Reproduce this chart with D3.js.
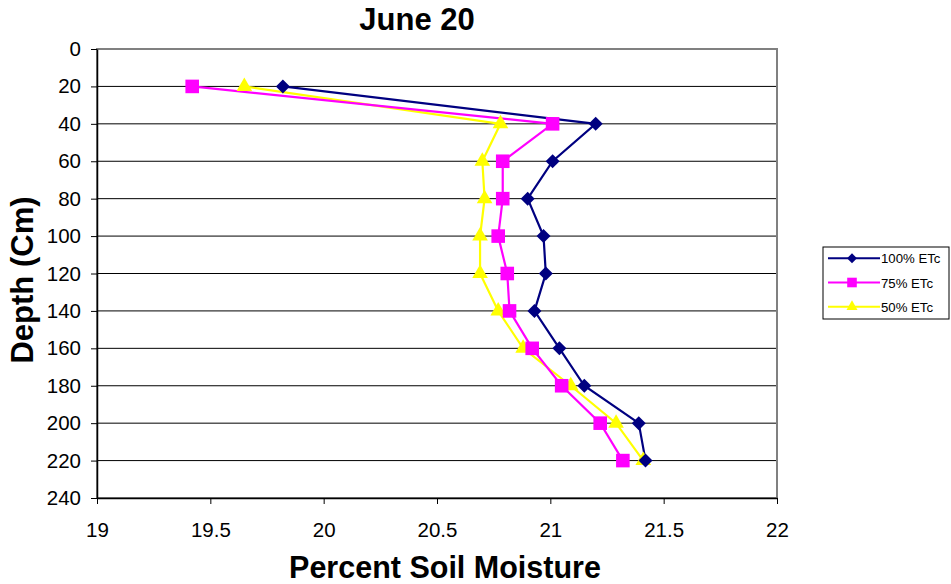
<!DOCTYPE html>
<html>
<head>
<meta charset="utf-8">
<script src="https://cdn.jsdelivr.net/npm/d3@7"></script>
<style>
  body { margin: 0; background: #fff; }
  text { font-family: "Liberation Sans", Arial, sans-serif; }
</style>
</head>
<body>
<div class="chart"></div>
<script>
// Data
const depths = [20, 40, 60, 80, 100, 120, 140, 160, 180, 200, 220];
const etc100 = [19.82, 21.20, 21.01, 20.90, 20.97, 20.98, 20.93, 21.04, 21.15, 21.39, 21.42];
const etc75 = [19.42, 21.01, 20.79, 20.79, 20.77, 20.81, 20.82, 20.92, 21.05, 21.22, 21.32];
const etc50 = [19.65, 20.78, 20.70, 20.71, 20.69, 20.69, 20.77, 20.88, 21.09, 21.29, 21.41];
const seriesNames = ["100% ETc", "75% ETc", "50% ETc"];
const xTicks = [19, 19.5, 20, 20.5, 21, 21.5, 22];
const yTicks = d3.range(0, 260, 20);

const series = [
  {name: seriesNames[0], values: etc100, color: "#000080", symbol: d3.symbolDiamond2, size: 125},
  {name: seriesNames[1], values: etc75, color: "#ff00ff", symbol: d3.symbolSquare2, size: 235},
  {name: seriesNames[2], values: etc50, color: "#ffff00", symbol: d3.symbolTriangle2, size: 175}
];

// Dimensions
const W = 951, H = 584;
const margin = {left: 97, top: 49, right: 174, bottom: 86};
const width = W - margin.left - margin.right, height = H - margin.top - margin.bottom;

// Scales
const xScale = d3.scaleLinear().domain([19, 22]).range([0, width]);
const yScale = d3.scaleLinear().domain([0, 240]).range([0, height]);

const svg = d3.select(".chart").append("svg")
    .attr("width", W)
    .attr("height", H);
const g = svg.append("g")
    .attr("transform", "translate(" + [margin.left, margin.top] + ")");

// Gridlines
g.selectAll(".grid")
    .data(yTicks.filter(d => d > 0 && d < 240))
  .enter().append("line")
    .attr("x1", 0).attr("x2", width)
    .attr("y1", d => yScale(d)).attr("y2", d => yScale(d))
    .attr("stroke", "#000").attr("stroke-width", 1);

// Plot border
g.append("rect")
    .attr("width", width).attr("height", height)
    .attr("fill", "none").attr("stroke", "#808080").attr("stroke-width", 2);

// Axes
const yAxis = g.append("g")
    .call(d3.axisLeft(yScale).tickValues(yTicks).tickSize(6).tickSizeOuter(0).tickPadding(10));
const xAxis = g.append("g")
    .attr("transform", "translate(0," + height + ")")
    .call(d3.axisBottom(xScale).tickValues(xTicks).tickSize(6).tickSizeOuter(0).tickPadding(18)
      .tickFormat(d => d));
[xAxis, yAxis].forEach(a => {
  a.select(".domain").attr("stroke", "#000").attr("stroke-width", 1.5);
  a.selectAll(".tick line").attr("stroke", "#000");
  a.selectAll(".tick text").attr("font-size", 20.5).attr("fill", "#000")
    .style("font-family", "'Liberation Sans', Arial, sans-serif");
});

// Lines and markers
const line = d3.line()
    .x(d => xScale(d[0]))
    .y(d => yScale(d[1]));

series.slice().reverse().forEach(s => {
  const pts = s.values.map((v, i) => [v, depths[i]]);
  g.append("path")
      .datum(pts)
      .attr("d", line)
      .attr("fill", "none")
      .attr("stroke", s.color)
      .attr("stroke-width", 2.2);
});
series.slice().reverse().forEach(s => {
  const pts = s.values.map((v, i) => [v, depths[i]]);
  g.selectAll(null)
      .data(pts)
    .enter().append("path")
      .attr("transform", d => "translate(" + [xScale(d[0]), yScale(d[1])] + ")")
      .attr("d", d3.symbol().type(s.symbol).size(s.size))
      .attr("fill", s.color);
});

// Title & labels
svg.append("text")
    .attr("x", 417).attr("y", 30)
    .attr("text-anchor", "middle")
    .attr("font-size", 31).attr("font-weight", "bold")
    .text("June 20");
svg.append("text")
    .attr("x", 445).attr("y", 578)
    .attr("text-anchor", "middle")
    .attr("font-size", 30.5).attr("font-weight", "bold")
    .text("Percent Soil Moisture");
svg.append("text")
    .attr("transform", "translate(33,280) rotate(-90)")
    .attr("text-anchor", "middle")
    .attr("font-size", 31).attr("font-weight", "bold")
    .text("Depth (Cm)");

// Legend
const legend = svg.append("g").attr("transform", "translate(823,247)");
legend.append("rect")
    .attr("width", 126).attr("height", 72)
    .attr("fill", "#fff").attr("stroke", "#000").attr("stroke-width", 1);
series.forEach((s, i) => {
  const row = legend.append("g").attr("transform", "translate(0," + (11.3 + i * 24.2) + ")");
  row.append("line")
      .attr("x1", 5).attr("x2", 57)
      .attr("stroke", s.color).attr("stroke-width", 2);
  row.append("path")
      .attr("transform", "translate(29,0)")
      .attr("d", d3.symbol().type(s.symbol).size(s.size * 0.5))
      .attr("fill", s.color);
  row.append("text")
      .attr("x", 58).attr("y", 5)
      .attr("font-size", 13.2)
      .text(s.name);
});
</script>
</body>
</html>
